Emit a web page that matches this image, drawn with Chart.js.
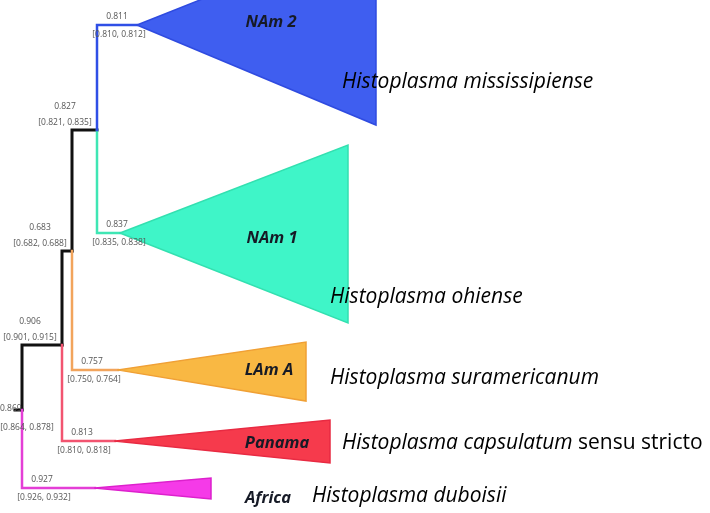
<!DOCTYPE html>
<html>
<head>
<meta charset="utf-8">
<script src="https://cdn.jsdelivr.net/npm/chart.js@4/dist/chart.umd.min.js"></script>
<style>
  html, body { margin: 0; padding: 0; background: #ffffff; }
  #wrap { width: 710px; height: 513px; }
</style>
</head>
<body>
<div id="wrap"><canvas id="tree" width="710" height="513"></canvas></div>
<script>
// Internal nodes of the Histoplasma tree: depth (x) and row (y), with support and interval
const nodeNames   = ['root', 'core', 'americas', 'northAm'];
const nodeDepth   = [22, 62, 72, 97];
const nodeRow     = [410, 345, 251, 130];
const nodeParent  = [-1, 0, 1, 2];
const nodeSupport = ['0.869', '0.906', '0.683', '0.827'];
const nodeCI      = ['[0.864, 0.878]', '[0.901, 0.915]', '[0.682, 0.688]', '[0.821, 0.835]'];
const rootStemDepth = 15;

// Collapsed clades: parent node, crown apex, tip extent
const clades       = ['NAm 2', 'NAm 1', 'LAm A', 'Panama', 'Africa'];
const species      = ['Histoplasma mississipiense', 'Histoplasma ohiense', 'Histoplasma suramericanum',
                      'Histoplasma capsulatum', 'Histoplasma duboisii'];
const speciesSuffix = ['', '', '', ' sensu stricto', ''];
const cladeParent  = [3, 3, 2, 1, 0];
const cladeRow     = [25, 233, 370, 441, 488];
const cladeApex    = [137, 120, 118, 115, 95];
const cladeTip     = [376, 348, 306, 330, 211];
const cladeTop     = [-70, 145, 342, 420, 478];
const cladeBottom  = [125, 323, 401, 463, 499];
const cladeSupport = ['0.811', '0.837', '0.757', '0.813', '0.927'];
const cladeCI      = ['[0.810, 0.812]', '[0.835, 0.838]', '[0.750, 0.764]', '[0.810, 0.818]', '[0.926, 0.932]'];

const cladeFill   = ['#3f5ef0', '#3ff5c8', '#f9b843', '#f63a4c', '#f53ae8'];
const cladeStroke = ['#2f4be0', '#33e0b0', '#f0a035', '#e82a42', '#dc20cc'];
const cladeBranch = ['#2f4fe6', '#3fe6b4', '#f2a45c', '#f25470', '#e43ed6'];

const datasets = [];

// backbone (black)
const backbone = [{ x: rootStemDepth, y: nodeRow[0] }, { x: nodeDepth[0], y: nodeRow[0] }];
datasets.push({ data: backbone, borderColor: '#111', borderWidth: 3, order: 5 });
for (let i = 0; i < nodeNames.length; i++) {
  const p = nodeParent[i];
  if (p < 0) continue;
  datasets.push({
    data: [
      { x: nodeDepth[p], y: nodeRow[p] },
      { x: nodeDepth[p], y: nodeRow[i] },
      { x: nodeDepth[i], y: nodeRow[i] }
    ],
    borderColor: '#111', borderWidth: 3, order: 5
  });
}

// coloured stems and collapsed clade wedges
for (let c = 0; c < clades.length; c++) {
  const p = cladeParent[c];
  datasets.push({
    data: [
      { x: nodeDepth[p], y: nodeRow[p] },
      { x: nodeDepth[p], y: cladeRow[c] },
      { x: cladeApex[c], y: cladeRow[c] }
    ],
    borderColor: cladeBranch[c], borderWidth: 2.5, order: 4
  });
  datasets.push({
    data: [
      { x: cladeApex[c], y: cladeRow[c] },
      { x: cladeTip[c], y: cladeTop[c] },
      { x: cladeTip[c], y: cladeBottom[c] },
      { x: cladeApex[c], y: cladeRow[c] }
    ],
    borderColor: cladeStroke[c], backgroundColor: cladeFill[c],
    borderWidth: 1.5, fill: 'shape', order: 3
  });
}

const labelPlugin = {
  id: 'treeLabels',
  afterDatasetsDraw(chart) {
    const ctx = chart.ctx;
    const xs = chart.scales.x, ys = chart.scales.y;
    const px = v => xs.getPixelForValue(v);
    const py = v => ys.getPixelForValue(v);
    ctx.save();
    ctx.textBaseline = 'middle';
    ctx.fillStyle = '#555';
    ctx.font = '8.5px "Open Sans"';
    ctx.textAlign = 'center';

    // internal node support values
    for (let i = 0; i < nodeNames.length; i++) {
      if (nodeParent[i] < 0) {
        ctx.textAlign = 'left';
        ctx.fillText(nodeSupport[i], px(nodeDepth[i]) - 22, py(nodeRow[i]) - 1);
        ctx.textAlign = 'center';
        ctx.fillText(nodeCI[i], px(nodeDepth[i]) + 5, py(nodeRow[i]) + 18);
        continue;
      }
      const cx = px(nodeDepth[i]) - 32;
      ctx.fillText(nodeSupport[i], cx, py(nodeRow[i]) - 23);
      ctx.fillText(nodeCI[i], cx, py(nodeRow[i]) - 7);
    }
    // clade support values
    for (let c = 0; c < clades.length; c++) {
      const cx = px(nodeDepth[cladeParent[c]]) + 20;
      ctx.fillText(cladeSupport[c], cx, py(cladeRow[c]) - 8);
      ctx.fillText(cladeCI[c], cx + 2, py(cladeRow[c]) + 10);
    }

    // clade names inside the wedges
    ctx.fillStyle = '#161a26';
    ctx.font = 'italic bold 16.5px "Open Sans"';
    const nameX = [271, 272, 269, 277, 268];
    const nameShift = [-3, 5, 0, 2, 10];
    for (let c = 0; c < clades.length; c++) {
      ctx.fillText(clades[c], nameX[c], py(cladeRow[c]) + nameShift[c]);
    }

    // species names
    const spX = [342, 330, 330, 342, 312];
    const spY = [82, 297, 378, 443, 496];
    ctx.textAlign = 'left';
    ctx.fillStyle = '#000';
    for (let c = 0; c < clades.length; c++) {
      ctx.font = 'italic 21px "Open Sans"';
      ctx.fillText(species[c], spX[c], spY[c]);
      if (speciesSuffix[c]) {
        const w = ctx.measureText(species[c]).width;
        ctx.font = '21px "Open Sans"';
        ctx.fillText(speciesSuffix[c], spX[c] + w, spY[c]);
      }
    }
    ctx.restore();
  }
};

new Chart(document.getElementById('tree'), {
  type: 'scatter',
  data: { datasets: datasets.map(d => Object.assign({
    showLine: true, pointRadius: 0, pointHoverRadius: 0, tension: 0, fill: false,
    borderJoinStyle: 'miter', borderCapStyle: 'square'
  }, d)) },
  options: {
    responsive: false,
    devicePixelRatio: 1,
    animation: false,
    layout: { padding: 0 },
    plugins: { legend: { display: false }, tooltip: { enabled: false } },
    scales: {
      x: { type: 'linear', min: 0, max: 710, display: false },
      y: { type: 'linear', min: 0, max: 513, reverse: true, display: false }
    }
  },
  plugins: [labelPlugin]
});
</script>
</body>
</html>
